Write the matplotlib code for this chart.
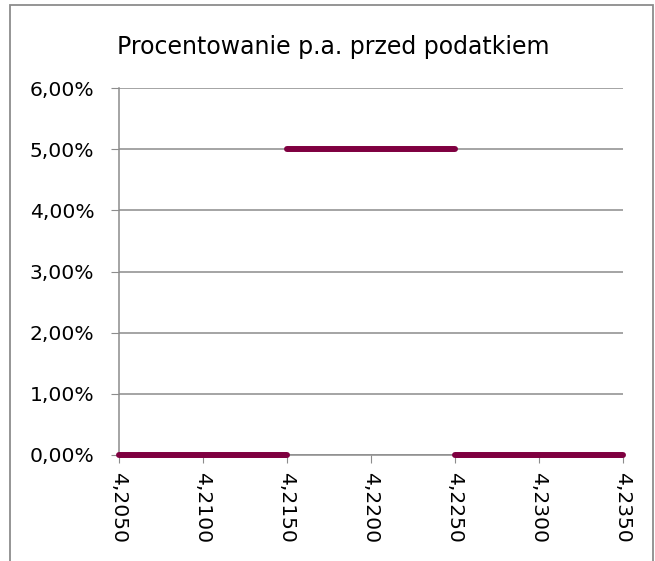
import matplotlib.pyplot as plt
import matplotlib.ticker as mtick
from matplotlib.patches import Rectangle

# rate segments: (x_start, x_end, rate)
seg_start = [4.2050, 4.2150, 4.2250]
seg_end = [4.2150, 4.2250, 4.2350]
seg_rate = [0.0, 0.05, 0.0]

x_ticks = [4.2050, 4.2100, 4.2150, 4.2200, 4.2250, 4.2300, 4.2350]
y_ticks = [0.0, 0.01, 0.02, 0.03, 0.04, 0.05, 0.06]

fig = plt.figure(figsize=(6.55, 5.61), dpi=100)
ax = fig.add_axes([119/655, 1-455/561, (623-119)/655, (455-88)/561])

# outer chart border
fig.patches.append(Rectangle((10/655, -0.05), (653-10)/655, 1.05 - 4.5/561,
                             transform=fig.transFigure, fill=False,
                             edgecolor='#8c8c8c', linewidth=1.3))

for x0, x1, r in zip(seg_start, seg_end, seg_rate):
    ax.plot([x0, x1], [r, r], color='#7f0040', linewidth=4.3,
            solid_capstyle='round', zorder=3, clip_on=False)

ax.set_xlim(x_ticks[0], x_ticks[-1])
ax.set_ylim(y_ticks[0], y_ticks[-1])
ax.set_xticks(x_ticks)
ax.set_yticks(y_ticks)
ax.set_xticklabels([('%.4f' % v).replace('.', ',') for v in x_ticks],
                   rotation=270, fontsize=14.6)
ax.yaxis.set_major_formatter(mtick.FuncFormatter(
    lambda v, p: ('%.2f%%' % (v * 100)).replace('.', ',')))
ax.tick_params(axis='y', labelsize=14.6, length=5.8, color='#8c8c8c', pad=12)
ax.tick_params(axis='x', length=5.8, color='#8c8c8c', pad=6.5)

ax.grid(axis='y', color='#8c8c8c', linewidth=1.1)
ax.set_axisbelow(True)
for s in ['top', 'right']:
    ax.spines[s].set_visible(False)
for s in ['left', 'bottom']:
    ax.spines[s].set_color('#8c8c8c')
    ax.spines[s].set_linewidth(1.1)

fig.text(333/655, 1-47/561, 'Procentowanie p.a. przed podatkiem',
         ha='center', va='center', fontsize=17)

plt.savefig('out.png', dpi=100)
plt.close()
